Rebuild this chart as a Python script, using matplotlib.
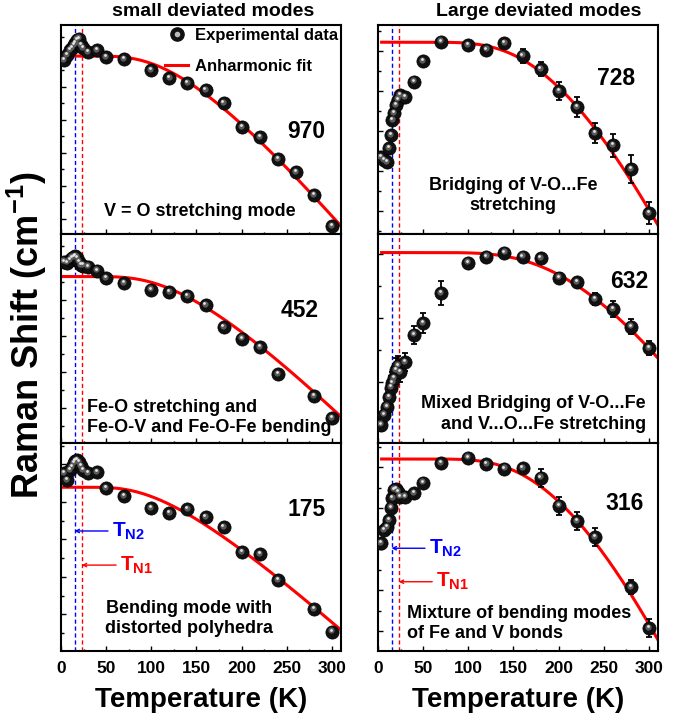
import numpy as np
import matplotlib
matplotlib.use("Agg")
import matplotlib.pyplot as plt
import matplotlib.transforms as mtransforms
from matplotlib.ticker import MultipleLocator, NullFormatter
from matplotlib.lines import Line2D
from matplotlib.legend_handler import HandlerTuple

plt.rcParams['font.family'] = ['Liberation Sans', 'DejaVu Sans']
plt.rcParams['font.weight'] = 'bold'
plt.rcParams['mathtext.fontset'] = 'custom'
plt.rcParams['mathtext.rm'] = 'Liberation Sans:bold'
plt.rcParams['mathtext.bf'] = 'Liberation Sans:bold'
plt.rcParams['mathtext.it'] = 'Liberation Sans:bold'

# Temperatures (K)
temps = np.array([3, 7, 10, 12, 14, 16, 18, 20, 22, 24, 30, 40, 50, 70,
                  100, 120, 140, 160, 180, 200, 220, 240, 260, 280, 300])
nan = np.nan

# Raman shifts (cm-1)
w970 = [972.81, 972.96, 973.11, 973.17, 973.26, 973.32, 973.42, 973.45, 973.26, 973.17,
        973.05, 973.11, 972.90, 972.84, 972.51, 972.26, 972.11, 971.90, 971.51, 970.78,
        970.48, 969.81, 969.42, 968.72, 967.78]
w452 = [452.06, 452.03, 452.11, 452.17, 452.19, 452.22, 452.17, 452.06, 451.97, 451.95,
        451.92, 451.81, 451.61, 451.47, 451.28, 451.22, 451.11, 450.86, 450.25, 449.92,
        449.69, 448.94, nan, 448.33, 447.72]
w175 = [175.77, 175.58, 175.85, 175.93, 176.03, 176.09, 176.11, 176.06, 175.95, 175.85,
        175.77, 175.79, 175.37, 175.15, 174.83, 174.70, 174.81, 174.59, 174.33, 173.66,
        173.61, 172.91, nan, 172.14, 171.53]
w728 = [726.34, 726.27, 726.22, 726.57, 726.89, 727.27, 727.44, 727.64, 727.77, 727.89,
        727.84, 728.22, 728.74, 729.22, 729.14, 729.02, 729.19, 728.87, 728.54, 727.99,
        727.59, 726.94, 726.64, 726.04, 724.94]
w632 = [628.67, 628.98, 629.23, 629.54, 629.83, 629.98, 630.13, 630.38, 630.51, 630.32,
        630.63, 631.48, 631.85, 632.79, 633.73, 633.92, 634.04, 633.92, 633.88, 633.26,
        633.13, 632.60, 632.29, 631.73, 631.07]
w316 = [316.15, 316.47, 316.54, 316.71, 317.01, 317.25, 317.45, 317.47, 317.40, 317.28,
        317.28, 317.37, 317.62, 318.10, 318.23, 318.08, 317.96, 317.98, 317.74, 317.06,
        316.69, 316.30, nan, 315.08, 314.08]

# error bars (cm-1)
zero = [0.0] * 25
e728 = [0, 0, 0, 0.08, 0.08, 0.08, 0.08, 0.08, 0.08, 0.05, 0, 0, 0, 0, 0, 0,
        0.10, 0.17, 0.18, 0.22, 0.24, 0.24, 0.29, 0.35, 0.27]
e632 = [0.19, 0.25, 0.30, 0.30, 0.35, 0.35, 0.35, 0.38, 0.30, 0.30, 0.28, 0.28, 0.31,
        0.38, 0.08, 0.05, 0.05, 0.06, 0.08, 0.16, 0.13, 0.19, 0.25, 0.23, 0.22]
e316 = [0, 0, 0, 0, 0, 0, 0.05, 0.05, 0, 0, 0, 0, 0, 0, 0, 0, 0,
        0.10, 0.22, 0.22, 0.22, 0.22, 0, 0.17, 0.22]

# anharmonic fit: plateau value, drop at 310 K, effective phonon energy term
fit_plateau = [972.93, 451.65, 175.39, 729.21, 634.05, 318.20]
fit_drop = [5.15, 3.89, 3.81, 4.57, 3.30, 4.41]
fit_c = [420, 430, 350, 750, 850, 780]

TN2, TN1 = 15, 23

ylims = [(967.54, 973.87), (447.03, 452.83), (171.02, 176.57),
         (724.42, 729.64), (628.10, 634.63), (313.52, 318.59)]
ymajor = [1, 1, 1, 1, 2, 1]

labels = ["970", "452", "175", "728", "632", "316"]
label_pos = [(0.877, 0.489), (0.854, 0.636), (0.877, 0.678),
             (0.852, 0.745), (0.898, 0.772), (0.882, 0.710)]
descr = ["V = O stretching mode",
         "Fe-O stretching and\nFe-O-V and Fe-O-Fe bending",
         "Bending mode with\ndistorted polyhedra",
         "Bridging of V-O...Fe\nstretching",
         "Mixed Bridging of V-O...Fe\nand V...O...Fe stretching",
         "Mixture of bending modes\nof Fe and V bonds"]
descr_pos = [(0.496, 0.107, 'center'), (0.092, 0.122, 'left'), (0.458, 0.157, 'center'),
             (0.483, 0.183, 'center'), (0.957, 0.139, 'right'), (0.105, 0.133, 'left')]

data = [w970, w452, w175, w728, w632, w316]
errs = [zero, zero, zero, e728, e632, e316]

fig = plt.figure(figsize=(6.89, 7.22), dpi=100)
W, H = 689.0, 722.0
col_x = [61, 378]
row_y = [(25, 234), (234, 443), (443, 651)]

axes = []
for i in range(6):
    col = i // 3
    row = i % 3
    y0, y1 = row_y[row]
    ax = fig.add_axes([col_x[col] / W, 1 - y1 / H, 280 / W, (y1 - y0) / H])
    axes.append(ax)

    # vertical dashed lines at the transitions
    ax.axvline(TN2, color='#0000ff', ls=(0, (3, 2)), lw=1.0, zorder=1)
    ax.axvline(TN1, color='#ff0000', ls=(0, (3, 2)), lw=1.0, zorder=1)

    # fit
    t0 = 0.5 if col == 0 else 4
    tt = np.linspace(t0, 310, 400)
    f = lambda T, c=fit_c[i]: 1.0 / (np.exp(c / T) - 1.0)
    A = -fit_drop[i] / (2 * f(310.0))
    w0 = fit_plateau[i] - A
    ax.plot(tt, w0 + A * (1 + 2 * f(tt)), color='#ff0000', lw=2.2, zorder=2)

    # data: error bars + shaded balls
    y = np.array(data[i], dtype=float)
    e = np.array(errs[i], dtype=float)
    if np.any(e > 0):
        ax.errorbar(temps, y, yerr=e, fmt='none', ecolor='black', elinewidth=1.3,
                    capsize=2.5, capthick=1.3, zorder=3)
    ax.plot(temps, y, 'o', color='#111111', mec='#000000', mew=0.5, ms=9.5, zorder=4)
    tr1 = mtransforms.offset_copy(ax.transData, fig=fig, x=-0.6, y=1.0, units='points')
    ax.plot(temps, y, 'o', color='#5a5a5a', mew=0, ms=4.5, transform=tr1, zorder=5)
    tr2 = mtransforms.offset_copy(ax.transData, fig=fig, x=-0.8, y=1.6, units='points')
    ax.plot(temps, y, 'o', color='#e6e6e6', mew=0, ms=2.0, transform=tr2, zorder=6)

    ax.set_xlim(0, 310)
    ax.set_ylim(*ylims[i])
    ax.xaxis.set_major_locator(MultipleLocator(50))
    ax.xaxis.set_minor_locator(MultipleLocator(25))
    ax.yaxis.set_major_locator(MultipleLocator(ymajor[i]))
    ax.yaxis.set_minor_locator(MultipleLocator(ymajor[i] / 2))
    ax.yaxis.set_major_formatter(NullFormatter())
    ax.tick_params(which='both', direction='in', top=False, right=False, width=1.0)
    ax.tick_params(which='major', length=3.5)
    ax.tick_params(which='minor', length=1.8)
    ax.tick_params(axis='x', labelsize=12.5, pad=7)
    if row != 2:
        ax.xaxis.set_major_formatter(NullFormatter())
    for s in ax.spines.values():
        s.set_linewidth(1.5)

    ax.text(label_pos[i][0], label_pos[i][1], labels[i], transform=ax.transAxes,
            fontsize=16.5, fontweight='bold', ha='center', va='center')
    dx, dy, ha = descr_pos[i]
    ax.text(dx, dy, descr[i], transform=ax.transAxes, fontsize=13, fontweight='bold',
            ha=ha, va='center', multialignment=ha, linespacing=1.25)

# T_N markers on bottom panels
tn_pos = [(axes[2], 0.577, 0.413, 52, 61), (axes[5], 0.494, 0.333, 52, 60)]
for ax, yb, yr, tb, trd in tn_pos:
    ax.annotate('', xy=(TN2, yb), xycoords=('data', 'axes fraction'),
                xytext=(tb, yb), textcoords=('data', 'axes fraction'),
                arrowprops=dict(arrowstyle='->', color='#0000ff', lw=1.0,
                                shrinkA=0, shrinkB=0, mutation_scale=6))
    ax.text(tb + 5, yb, r'$\mathregular{T_{N2}}$', color='#0000ff', fontsize=15,
            transform=mtransforms.blended_transform_factory(ax.transData, ax.transAxes),
            ha='left', va='center')
    ax.annotate('', xy=(TN1, yr), xycoords=('data', 'axes fraction'),
                xytext=(trd, yr), textcoords=('data', 'axes fraction'),
                arrowprops=dict(arrowstyle='->', color='#ff0000', lw=1.0,
                                shrinkA=0, shrinkB=0, mutation_scale=6))
    ax.text(trd + 4, yr, r'$\mathregular{T_{N1}}$', color='#ff0000', fontsize=15,
            transform=mtransforms.blended_transform_factory(ax.transData, ax.transAxes),
            ha='left', va='center')

# legend in the first panel
ball = (Line2D([], [], ls='none', marker='o', color='#111111', ms=9.5),
        Line2D([], [], ls='none', marker='o', color='#bbbbbb', ms=3))
fitline = Line2D([], [], color='#ff0000', lw=2.2)
axes[0].legend([ball, fitline], ['Experimental data', 'Anharmonic fit'],
               handler_map={tuple: HandlerTuple(ndivide=1, pad=0)},
               loc='upper left', bbox_to_anchor=(0.371, 0.985), frameon=False,
               fontsize=12, handlelength=1.4, handletextpad=0.4, labelspacing=0.95,
               borderpad=0, borderaxespad=0)

fig.text(213 / W, 1 - 12 / H, 'small deviated modes', fontsize=14, fontweight='bold',
         ha='center', va='center')
fig.text(539 / W, 1 - 12 / H, 'Large deviated modes', fontsize=14, fontweight='bold',
         ha='center', va='center')
fig.text(201 / W, 1 - 700 / H, 'Temperature (K)', fontsize=20, fontweight='bold',
         ha='center', va='center')
fig.text(518 / W, 1 - 700 / H, 'Temperature (K)', fontsize=20, fontweight='bold',
         ha='center', va='center')
fig.text(27 / W, 1 - 335 / H, r'Raman Shift (cm$^{\mathregular{-1}}$)', fontsize=26,
         fontweight='bold', rotation=90, ha='center', va='center')

fig.savefig('out.png', dpi=100)
